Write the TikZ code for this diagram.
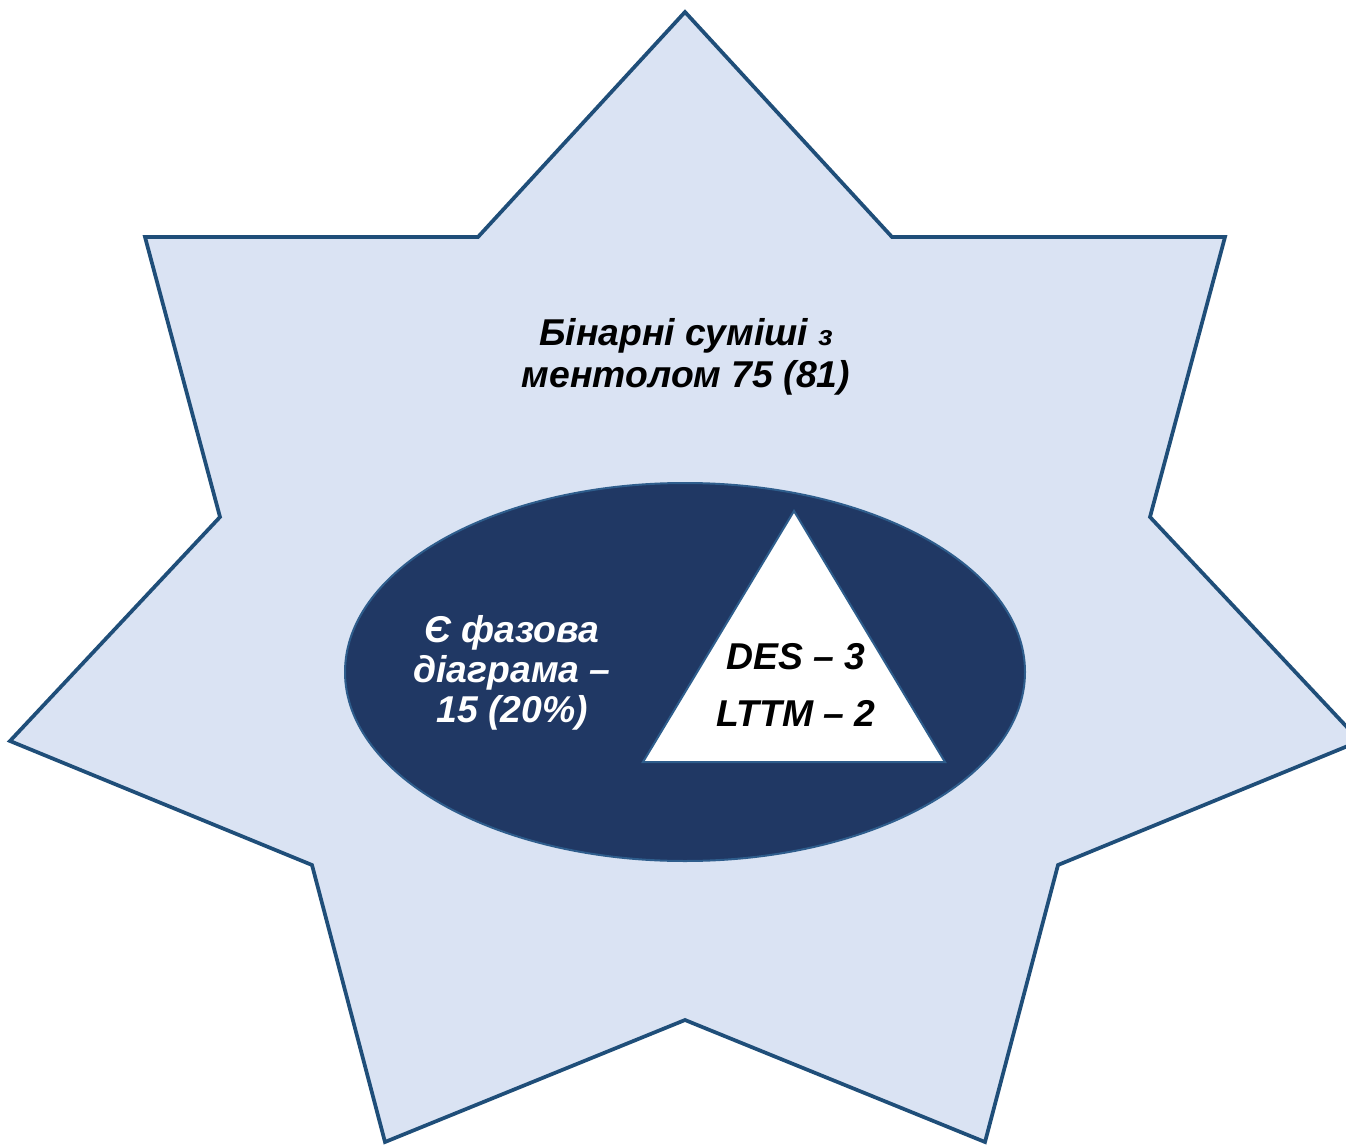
\documentclass[tikz,border=0pt]{standalone}
\usepackage{fontspec}
\setmainfont{Liberation Sans}
\begin{document}
\begin{tikzpicture}[x=0.75pt,y=-0.75pt,
  starfill/.style={fill=starbg,draw=edgeblue,line width=2.8pt,line join=miter},
  label/.style={font=\bfseries\itshape\fontsize{28}{31.5}\selectfont,align=center,inner sep=0pt}]
\definecolor{starbg}{HTML}{DAE3F3}
\definecolor{edgeblue}{HTML}{1F4E79}
\definecolor{navy}{HTML}{203864}
\definecolor{rimblue}{HTML}{2E5D8C}
\useasboundingbox (0,0) rectangle (1346,1145);
\clip (0,0) rectangle (1346,1145);
% seven-pointed star
\draw[starfill] (685,12) -- (892,237) -- (1225,237) -- (1150,517) -- (1360,741)
  -- (1058,865) -- (985,1142) -- (685,1020) -- (385,1142) -- (312,865)
  -- (10,741) -- (220,517) -- (145,237) -- (478,237) -- cycle;
% dark ellipse
\draw[fill=navy,draw=rimblue,line width=1.5pt] (685,672) ellipse [x radius=340, y radius=189];
% white triangle
\draw[fill=white,draw=rimblue,line width=1.5pt,line join=miter] (794,511) -- (945,762) -- (643,762) -- cycle;
% texts
\node[label] (mix) at (686,357) {Бінарні суміші {\fontsize{21}{31.5}\selectfont з}\\ментолом 75 (81)};
\node[label,text=white,font=\bfseries\itshape\fontsize{28}{30}\selectfont] (phase) at (512,673) {Є фазова\\діаграма –\\15 (20\%)};
\node[label,font=\bfseries\itshape\fontsize{28}{43}\selectfont] (des) at (796,685) {DES – 3\\LTTM – 2};
\end{tikzpicture}
\end{document}
